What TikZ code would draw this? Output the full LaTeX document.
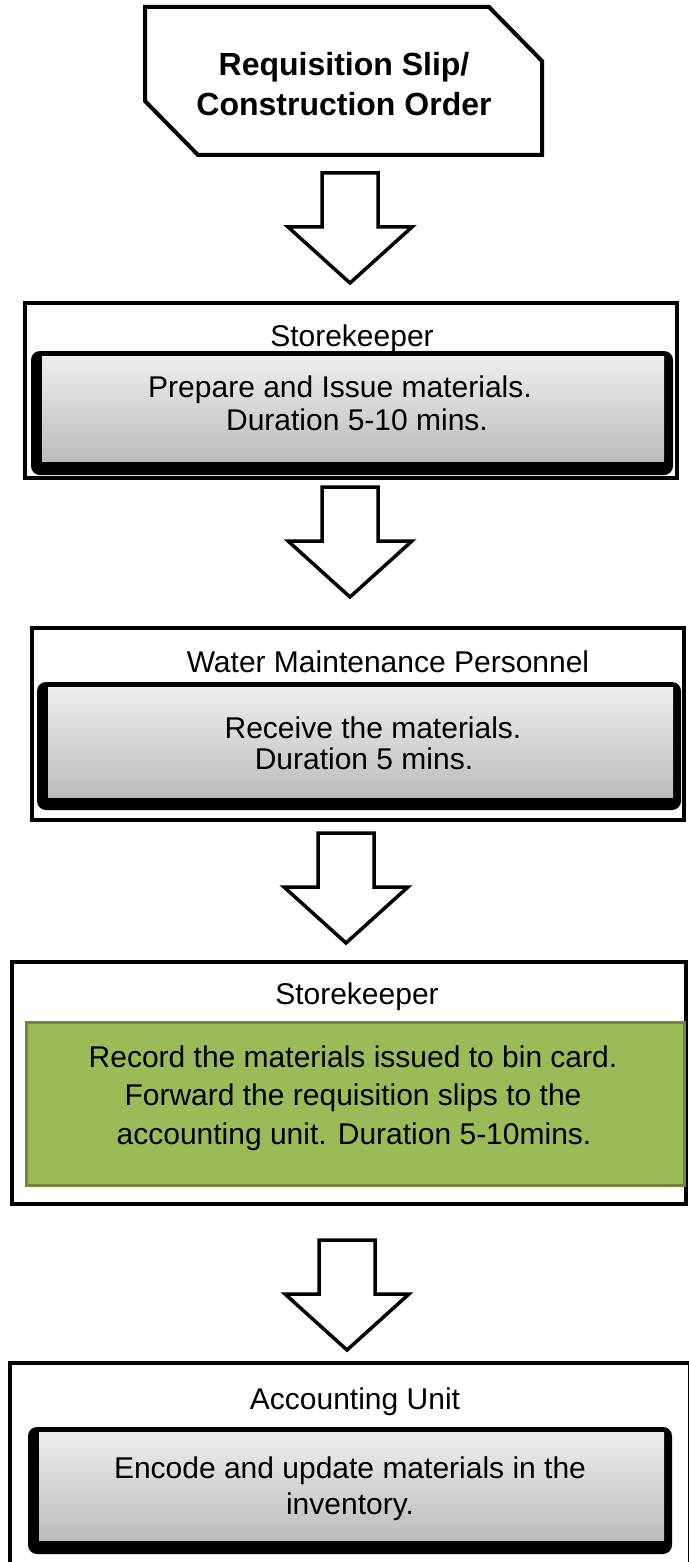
\documentclass[tikz,border=0pt]{standalone}
\usepackage{fontspec}
\setmainfont{Liberation Sans}
\definecolor{grayTop}{RGB}{238,238,238}
\definecolor{grayBot}{RGB}{188,188,188}
\definecolor{greenFill}{RGB}{155,187,89}
\definecolor{greenLine}{RGB}{113,137,63}
\begin{document}
\begin{tikzpicture}[x=1pt,y=-1pt,
  outerbox/.style={draw=black, line width=3.5pt, fill=white, inner sep=0pt, outer sep=0pt},
  blackbox/.style={fill=black, rounded corners=9pt, inner sep=0pt, outer sep=0pt},
  graybox/.style={top color=grayTop, bottom color=grayBot, inner sep=0pt, outer sep=0pt},
  greenbox/.style={draw=greenLine, fill=greenFill, line width=3pt, inner sep=0pt, outer sep=0pt},
  lbl/.style={anchor=base, inner sep=0pt, font=\fontsize{30}{34}\selectfont},
  titletext/.style={anchor=base, inner sep=0pt, font=\fontsize{32}{36}\selectfont\bfseries},
  downarrow/.pic={\draw[line width=3.5pt, line join=miter, fill=white]
     (-28,0) -- (28,0) -- (28,54) -- (62,54) -- (0,110) -- (-62,54) -- (-28,54) -- cycle;}
]
\useasboundingbox (0,0) rectangle (688,1562);
\fill[white] (0,0) rectangle (688,1562);

% start shape
\draw[line width=4pt, line join=miter] (145,7) -- (489,7) -- (542,61) -- (542,155) -- (198,155) -- (145,101) -- cycle;
\node[titletext] (req1) at (344,76) {Requisition Slip/};
\node[titletext] (req2) at (344,116) {Construction Order};

% arrow 1
\pic at (350,173) {downarrow};

% box 1
\node[outerbox, minimum width=652, minimum height=175] (box1) at (351,390.5) {};
\node[lbl] (box1l) at (352,346) {Storekeeper};
\node[blackbox, minimum width=642, minimum height=124] (blk1) at (352,413) {};
\node[graybox, minimum width=622, minimum height=105] (gr1) at (353,408.5) {};
\node[lbl] (t1a) at (340,397) {Prepare and Issue materials.};
\node[lbl] (t1b) at (357,430) {Duration 5-10 mins.};

% arrow 2
\pic at (350,487) {downarrow};

% box 2
\node[outerbox, minimum width=652, minimum height=192] (box2) at (358,724) {};
\node[lbl] (box2l) at (388,672) {Water Maintenance Personnel};
\node[blackbox, minimum width=644, minimum height=128] (blk2) at (359,746) {};
\node[graybox, minimum width=625, minimum height=110] (gr2) at (360.5,742) {};
\node[lbl] (t2a) at (373,738) {Receive the materials.};
\node[lbl] (t2b) at (364,769) {Duration 5 mins.};

% arrow 3
\pic at (346,833) {downarrow};

% box 3
\node[outerbox, line width=4pt, minimum width=674, minimum height=242] (box3) at (349,1083) {};
\node[lbl] (box3l) at (357,1004) {Storekeeper};
\node[greenbox, minimum width=658, minimum height=163] (gn3) at (355,1103.5) {};
\node[lbl] (t3a) at (353,1067) {Record the materials issued to bin card.};
\node[lbl] (t3b) at (353,1105) {Forward the requisition slips to the};
\node[lbl] (t3c) at (354,1144) {accounting unit. Duration 5-10mins.};

% arrow 4
\pic at (347,1240) {downarrow};

% box 4
\node[outerbox, line width=4pt, minimum width=680, minimum height=217] (box4) at (350,1471.5) {};
\node[lbl] (box4l) at (355,1409) {Accounting Unit};
\node[blackbox, minimum width=644, minimum height=127] (blk4) at (350,1490.5) {};
\node[graybox, minimum width=625, minimum height=108] (gr4) at (351.5,1486) {};
\node[lbl] (t4a) at (350,1478) {Encode and update materials in the};
\node[lbl] (t4b) at (350,1514) {inventory.};
\end{tikzpicture}
\end{document}
